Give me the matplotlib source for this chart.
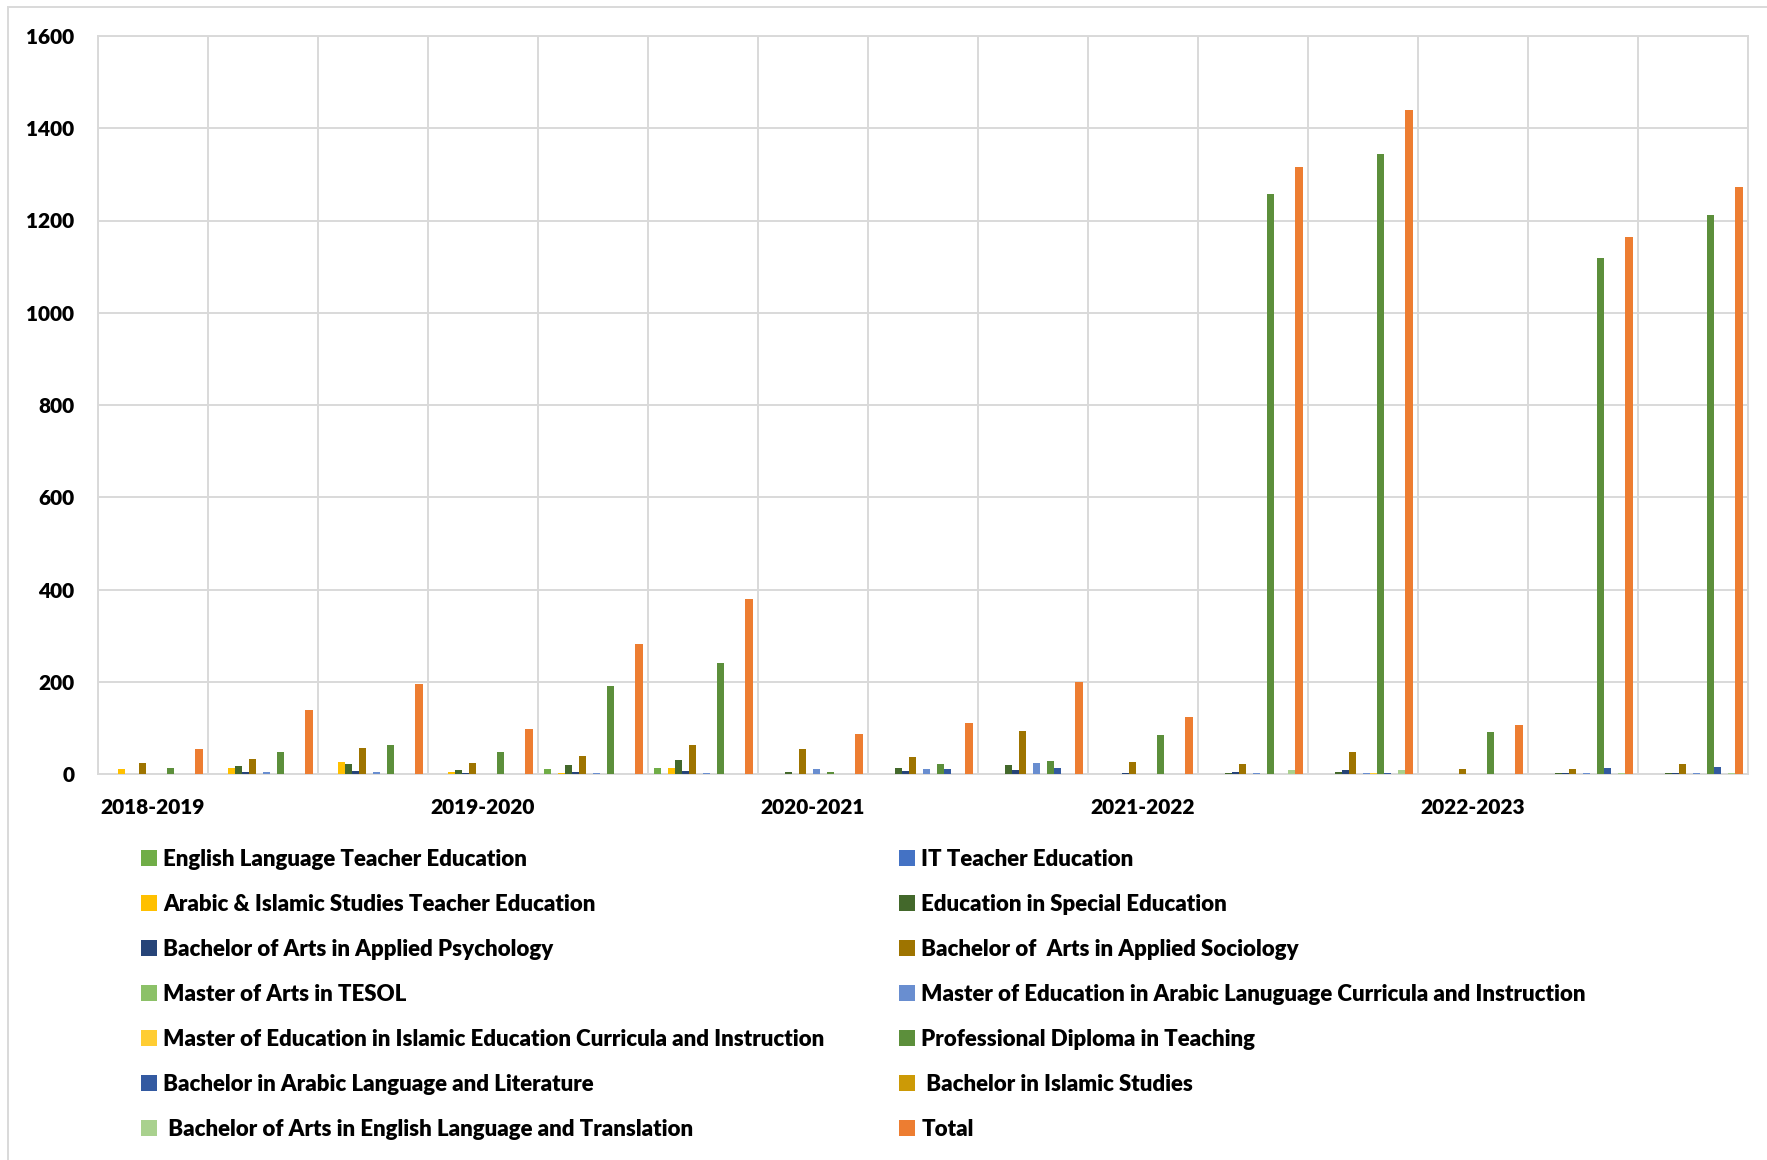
import matplotlib.pyplot as plt
import matplotlib.patches as mpatches
import numpy as np

plt.rcParams["font.family"] = ["Lato", "DejaVu Sans"]
plt.rcParams["font.weight"] = "heavy"

# ----- Daten -----------------------------------------------------------------

categories = ["2018-2019", "", "", "2019-2020", "", "", "2020-2021", "", "",
              "2021-2022", "", "", "2022-2023", "", ""]

series_names = [
    "English Language Teacher Education",
    "IT Teacher Education",
    "Arabic & Islamic Studies Teacher Education",
    "Education in Special Education",
    "Bachelor of Arts in Applied Psychology",
    "Bachelor of  Arts in Applied Sociology",
    "Master of Arts in TESOL",
    "Master of Education in Arabic Lanuguage Curricula and Instruction",
    "Master of Education in Islamic Education Curricula and Instruction",
    "Professional Diploma in Teaching",
    "Bachelor in Arabic Language and Literature",
    " Bachelor in Islamic Studies",
    " Bachelor of Arts in English Language and Translation",
    "Total",
]

english_te = [0, 1, 1, 1, 10, 14, 0, 0, 0, 0, 0, 0, 0, 0, 0]
it_te = [0] * 15
arabic_islamic_te = [10, 14, 25, 5, 3, 12, 0, 0, 0, 0, 0, 0, 0, 0, 0]
special_ed = [1, 18, 21, 9, 20, 30, 5, 12, 19, 0, 3, 4, 0, 3, 3]
applied_psych = [1, 5, 7, 2, 5, 7, 1, 6, 9, 3, 4, 9, 0, 3, 3]
applied_soc = [23, 33, 57, 23, 38, 62, 55, 37, 94, 25, 21, 48, 10, 10, 21]
ma_tesol = [0] * 15
med_arabic = [0, 4, 5, 0, 2, 2, 10, 10, 23, 0, 3, 3, 0, 3, 3]
med_islamic = [0, 1, 1, 0, 0, 0, 0, 0, 0, 0, 1, 3, 0, 0, 0]
prof_diploma = [13, 47, 62, 47, 191, 240, 5, 21, 28, 85, 1258, 1344, 92, 1119, 1211]
ba_arabic_lit = [0, 0, 0, 0, 0, 0, 1, 10, 12, 0, 1, 3, 1, 12, 15]
ba_islamic = [0, 0, 0, 0, 0, 0, 1, 0, 1, 0, 0, 1, 0, 0, 1]
ba_eng_transl = [0, 0, 0, 0, 0, 0, 0, 0, 0, 0, 9, 9, 0, 3, 3]
total = [55, 138, 195, 97, 281, 380, 87, 110, 199, 123, 1315, 1439, 107, 1165, 1272]

series_values = [english_te, it_te, arabic_islamic_te, special_ed, applied_psych,
                 applied_soc, ma_tesol, med_arabic, med_islamic, prof_diploma,
                 ba_arabic_lit, ba_islamic, ba_eng_transl, total]

colors = ["#70AD47", "#4472C4", "#FFC000", "#43682B", "#264478", "#9E7400",
          "#8CC168", "#698ED0", "#FFCD33", "#5C8F3B", "#335AA1", "#CC9A06",
          "#A9D18E", "#ED7D31"]

y_ticks = [0, 200, 400, 600, 800, 1000, 1200, 1400, 1600]

# ----- Plot ------------------------------------------------------------------

GRID = "#D9D9D9"
W, H = 1767, 1160
fig = plt.figure(figsize=(W / 100, H / 100), dpi=100)
ax = fig.add_axes([98 / W, 1 - 774 / H, (1748 - 98) / W, (774 - 36) / H])

n = len(series_values)
x = np.arange(len(categories))
w = 0.9 / n
handles = []
for i, (vals, c, name) in enumerate(zip(series_values, colors, series_names)):
    b = ax.bar(x + (i - (n - 1) / 2) * w, vals, width=w, color=c,
               label=name, zorder=3)
    handles.append(b)

ax.set_xlim(-0.5, len(categories) - 0.5)
ax.set_ylim(0, 1600)
ax.set_yticks(y_ticks)
ax.set_xticks(x)
ax.set_xticklabels(categories)
ax.set_xticks(np.arange(-0.5, len(categories)), minor=True)
ax.grid(True, which="minor", axis="x", color=GRID, lw=1.4, zorder=0)
ax.grid(True, which="major", axis="y", color=GRID, lw=1.4, zorder=0)
ax.tick_params(axis="both", which="both", length=0)
ax.tick_params(axis="y", pad=17, labelsize=15)
ax.tick_params(axis="x", pad=17, labelsize=15)
for lab in ax.get_xticklabels() + ax.get_yticklabels():
    lab.set_fontweight("heavy")
for sp in ax.spines.values():
    sp.set_color(GRID)
    sp.set_linewidth(1.4)

# Legende: zwei Spalten, zeilenweise wie im Original
leg_kw = dict(loc="upper left", frameon=False, handlelength=0.7,
              handleheight=0.7, handletextpad=0.3, labelspacing=1.08,
              borderpad=0, borderaxespad=0, prop={"weight": "heavy", "size": 16})
leg1 = fig.legend(handles[0::2], series_names[0::2],
                  bbox_to_anchor=(141 / W, 1 - 849 / H), **leg_kw)
leg2 = fig.legend(handles[1::2], series_names[1::2],
                  bbox_to_anchor=(899 / W, 1 - 849 / H), **leg_kw)

# Rahmen um die Grafik
fig.patches.append(mpatches.Rectangle((8 / W, -0.01), 1.02, 1 - 7 / H + 0.01,
                                      transform=fig.transFigure, fill=False,
                                      edgecolor=GRID, lw=1.4))

fig.savefig("out.png", dpi=100)
